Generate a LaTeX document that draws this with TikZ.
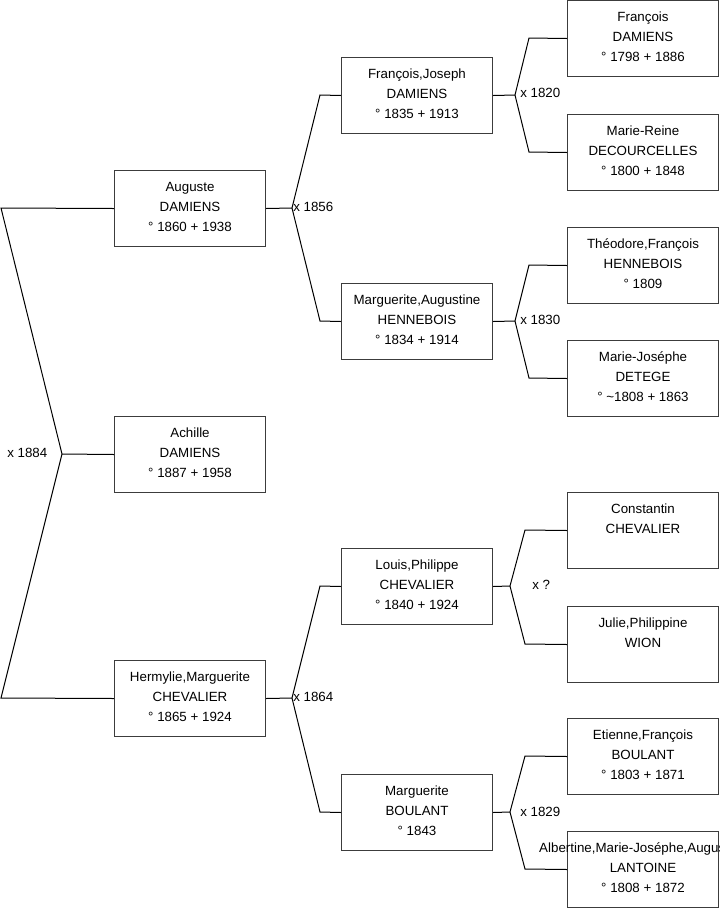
\documentclass[tikz,border=0pt]{standalone}
\usepackage{fontspec}
\setmainfont{Liberation Sans}
\begin{document}
\begin{tikzpicture}[x=0.75pt,y=-0.75pt]
\tikzset{
 pbox/.style={draw={rgb,255:red,60;green,60;blue,60}, line width=0.75pt, minimum width=113.25pt, minimum height=57pt, inner sep=0pt, anchor=north west},
 ptext/.style={anchor=north, align=center, inner sep=0pt, font=\fontsize{10}{15}\selectfont},
 link/.style={line width=0.75pt, draw=black},
 mlabel/.style={anchor=west, inner sep=0pt, font=\fontsize{10}{15}\selectfont}
}
\useasboundingbox (0,0) rectangle (719,908);
\clip (0,0) rectangle (719,908);
% generation 1
\node[pbox] (aug) at (114,170) {};
\node[pbox] (ach) at (114,416) {};
\node[pbox] (her) at (114,660) {};
% generation 2
\node[pbox] (fj) at (341,57) {};
\node[pbox] (ma) at (341,283) {};
\node[pbox] (lp) at (341,548) {};
\node[pbox] (mb) at (341,774) {};
% generation 3
\node[pbox] (fd) at (567,0) {};
\node[pbox] (mr) at (567,114) {};
\node[pbox] (th) at (567,227) {};
\node[pbox] (mj) at (567,340) {};
\node[pbox] (co) at (567,492) {};
\node[pbox] (ju) at (567,606) {};
\node[pbox] (et) at (567,718) {};
\node[pbox] (al) at (567,831) {};
% texts
\node[ptext] (taug) at ([yshift=-5.5pt]aug.north) {\strut Auguste\\DAMIENS\\° 1860 + 1938};
\node[ptext] (tach) at ([yshift=-5.5pt]ach.north) {\strut Achille\\DAMIENS\\° 1887 + 1958};
\node[ptext] (ther) at ([yshift=-5.5pt]her.north) {\strut Hermylie,Marguerite\\CHEVALIER\\° 1865 + 1924};
\node[ptext] (tfj) at ([yshift=-5.5pt]fj.north) {\strut François,Joseph\\DAMIENS\\° 1835 + 1913};
\node[ptext] (tma) at ([yshift=-5.5pt]ma.north) {\strut Marguerite,Augustine\\HENNEBOIS\\° 1834 + 1914};
\node[ptext] (tlp) at ([yshift=-5.5pt]lp.north) {\strut Louis,Philippe\\CHEVALIER\\° 1840 + 1924};
\node[ptext] (tmb) at ([yshift=-5.5pt]mb.north) {\strut Marguerite\\BOULANT\\° 1843};
\node[ptext] (tfd) at ([yshift=-5.5pt]fd.north) {\strut François\\DAMIENS\\° 1798 + 1886};
\node[ptext] (tmr) at ([yshift=-5.5pt]mr.north) {\strut Marie-Reine\\DECOURCELLES\\° 1800 + 1848};
\node[ptext] (tth) at ([yshift=-5.5pt]th.north) {\strut Théodore,François\\HENNEBOIS\\° 1809};
\node[ptext] (tmj) at ([yshift=-5.5pt]mj.north) {\strut Marie-Joséphe\\DETEGE\\° \textasciitilde1808 + 1863};
\node[ptext] (tco) at ([yshift=-5.5pt]co.north) {\strut Constantin\\CHEVALIER};
\node[ptext] (tju) at ([yshift=-5.5pt]ju.north) {\strut Julie,Philippine\\WION};
\node[ptext] (tet) at ([yshift=-5.5pt]et.north) {\strut Etienne,François\\BOULANT\\° 1803 + 1871};
\node[ptext] (tal) at ([yshift=-5.5pt]al.north) {\strut Albertine,Marie-Joséphe,Augustine\\LANTOINE\\° 1808 + 1872};
% fork coordinates
\coordinate (t0) at (1,208);
\coordinate (v0) at (62,454);
\coordinate (b0) at (1,698);
\coordinate (v1) at (292,208);
\coordinate (u1) at (320,95);
\coordinate (d1) at (320,321);
\coordinate (v2) at (292,698);
\coordinate (u2) at (320,586);
\coordinate (d2) at (320,812);
\coordinate (v3) at (515,95);
\coordinate (u3) at (529,38);
\coordinate (d3) at (529,152);
\coordinate (v4) at (515,321);
\coordinate (u4) at (529,265);
\coordinate (d4) at (529,378);
\coordinate (v5) at (510,586);
\coordinate (u5) at (525,530);
\coordinate (d5) at (525,644);
\coordinate (v6) at (510,812);
\coordinate (u6) at (525,756);
\coordinate (d6) at (525,869);
% connectors
\draw[link] (aug.west) -- (t0) -- (v0) -- (b0) -- (her.west);
\draw[link] (v0) -- (ach.west);
\draw[link] (aug.east) -- (v1);
\draw[link] (fj.west) -- (u1) -- (v1) -- (d1) -- (ma.west);
\draw[link] (her.east) -- (v2);
\draw[link] (lp.west) -- (u2) -- (v2) -- (d2) -- (mb.west);
\draw[link] (fj.east) -- (v3);
\draw[link] (fd.west) -- (u3) -- (v3) -- (d3) -- (mr.west);
\draw[link] (ma.east) -- (v4);
\draw[link] (th.west) -- (u4) -- (v4) -- (d4) -- (mj.west);
\draw[link] (lp.east) -- (v5);
\draw[link] (co.west) -- (u5) -- (v5) -- (d5) -- (ju.west);
\draw[link] (mb.east) -- (v6);
\draw[link] (et.west) -- (u6) -- (v6) -- (d6) -- (al.west);
% marriage labels
\node[mlabel] (m0) at (7,453) {x 1884};
\node[mlabel] (m1) at (293,207) {x 1856};
\node[mlabel] (m2) at (293,697) {x 1864};
\node[mlabel] (m3) at (520,93) {x 1820};
\node[mlabel] (m4) at (520,320) {x 1830};
\node[mlabel] (m5) at (532,585) {x ?};
\node[mlabel] (m6) at (520,812) {x 1829};
\end{tikzpicture}
\end{document}
